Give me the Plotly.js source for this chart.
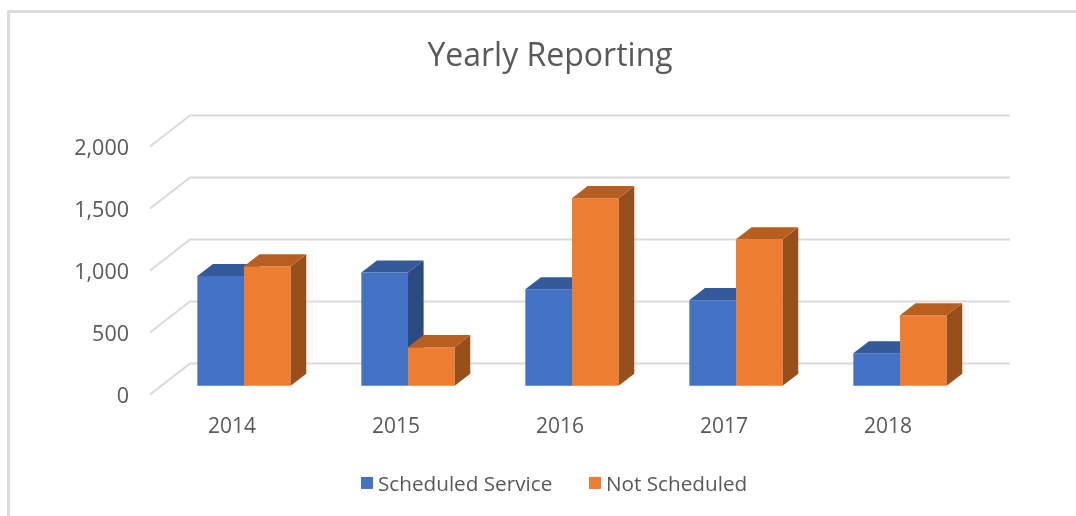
<!DOCTYPE html>
<html>
<head>
<meta charset="utf-8">
<script src="https://cdn.plot.ly/plotly-3.0.1.min.js"></script>
<style>
html,body{margin:0;padding:0;background:#fff;overflow:hidden;width:1076px;height:516px}
#chart{position:absolute;left:0;top:0;width:1076px;height:516px;filter:blur(0.4px)}
#frame{position:absolute;left:7px;top:10px;right:0;bottom:0;border-left:3px solid #dcdcdc;border-top:3px solid #dcdcdc;pointer-events:none}
.legendtext{transform:translateX(-9px)}
</style>
</head>
<body>
<div id="chart"></div>
<div id="frame"></div>
<script>
const years = ['2014','2015','2016','2017','2018'];
const scheduled = [885, 912, 777, 690, 262];
const notScheduled = [963, 311, 1512, 1180, 568];
const yTicks = [0, 500, 1000, 1500, 2000];
const yTickText = ['0','500','1,000','1,500','2,000'];

const TXT = '#595959', FONT = '"Open Sans", "Noto Sans", sans-serif';
// oblique projection of the depth axis, in data units
const DX = 0.2439, DY = 249.7;
const D0 = 0.30, D1 = 0.69;      // bars occupy this part of the depth
const D0Y = 0.285;
const BW = 0.2845;               // bar width in category units
const XL = -0.5, XR = 4.5;

const pos = years.map((_, i) => i);
const base = DY * D0Y;
const shift = DX * D0;

function faces(values, xStart) {
  const dx = DX * (D1 - D0), dy = DY * (D1 - D0);
  const side = {x: [], y: []}, top = {x: [], y: []};
  values.forEach((v, i) => {
    const l = pos[i] + xStart, r = l + BW, t = base + v;
    side.x.push(r, r + dx, r + dx, r, r, null);
    side.y.push(base, base + dy, t + dy, t, base, null);
    top.x.push(l, l + dx, r + dx, r, l, null);
    top.y.push(t, t + dy, t + dy, t, t, null);
  });
  return {side, top};
}
function poly(p, color, xa, ya) {
  return {type: 'scatter', mode: 'lines', x: p.x, y: p.y, fill: 'toself', fillcolor: color,
          line: {width: 0, color: color}, showlegend: false, hoverinfo: 'skip', xaxis: xa, yaxis: ya};
}
function bars(name, values, xStart, color, xa, ya) {
  return {type: 'bar', name: name, x: pos.map(p => p + xStart + BW / 2), y: values,
          base: values.map(() => base), width: BW, marker: {color: color, line: {width: 0}},
          xaxis: xa, yaxis: ya};
}

const fa = faces(scheduled, shift - BW);
const fb = faces(notScheduled, shift);

const data = [
  poly(fa.side, '#2B4A82', 'x', 'y'),
  poly(fa.top, '#345A9C', 'x', 'y'),
  bars('Scheduled Service', scheduled, shift - BW, '#4472C4', 'x', 'y'),
  bars('Not Scheduled', notScheduled, shift, '#ED7D31', 'x2', 'y2'),
  poly(fb.side, '#974F1B', 'x2', 'y2'),
  poly(fb.top, '#B85F20', 'x2', 'y2')
];

const shapes = [];
yTicks.forEach(v => {
  shapes.push({type: 'path', layer: 'below', xref: 'x', yref: 'y',
    path: `M${XL},${v} L${XL + DX},${v + DY} L${XR + DX},${v + DY}`,
    line: {color: '#dadada', width: 2}});
});

const xr = [XL, XR + DX], yr = [-60, 2270];
const layout = {
  width: 1076, height: 516, autosize: false,
  margin: {l: 150, r: 66, t: 113.18, b: 113.55, pad: 0},
  paper_bgcolor: '#fff', plot_bgcolor: 'rgba(0,0,0,0)',
  font: {family: FONT, color: TXT, size: 21},
  title: {text: 'Yearly Reporting', x: 550 / 1076, xanchor: 'center', y: 1 - 55 / 516, yanchor: 'middle',
          font: {family: FONT, size: 32, color: TXT}},
  barmode: 'overlay',
  xaxis: {range: xr, tickmode: 'array', tickvals: pos, ticktext: years, showgrid: false, zeroline: false,
          showline: false, ticks: '', ticklabelstandoff: 9, tickfont: {size: 21, color: TXT, family: FONT}},
  yaxis: {range: yr, tickmode: 'array', tickvals: yTicks, ticktext: yTickText, showgrid: false, zeroline: false,
          showline: false, ticks: '', ticklabelstandoff: 20, ticklabelshift: 1, tickfont: {size: 21.5, color: TXT, family: FONT}},
  xaxis2: {range: xr, overlaying: 'x', visible: false},
  yaxis2: {range: yr, overlaying: 'y', visible: false},
  showlegend: true,
  legend: {orientation: 'h', x: 584 / 1076, xanchor: 'center', y: 1 - 483 / 516, yanchor: 'middle', yref: 'container', xref:'container',
           font: {family: FONT, size: 20.7, color: TXT}, traceorder: 'normal', bgcolor: 'rgba(0,0,0,0)',
           indentation: -9, entrywidth: 192, entrywidthmode: 'pixels'},
  shapes: shapes,
  hovermode: false
};
Plotly.newPlot('chart', data, layout, {displayModeBar: false, staticPlot: true});
</script>
</body>
</html>
